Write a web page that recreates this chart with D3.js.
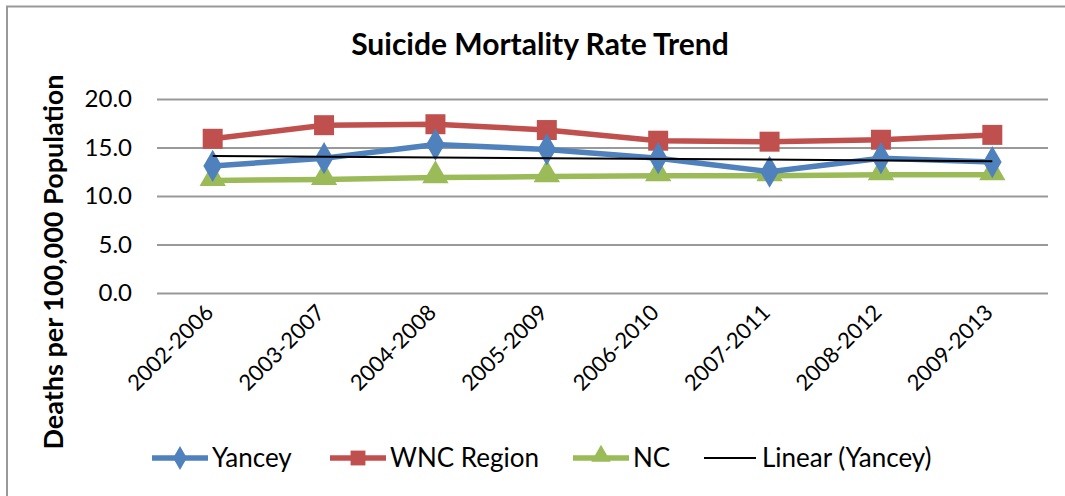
<!DOCTYPE html>
<html>
<head>
<meta charset="utf-8">
<script src="https://cdn.jsdelivr.net/npm/d3@7"></script>
<style>
  body { margin: 0; background: #fff; }
  svg { display: block; font-family: Lato, "Open Sans", sans-serif; }
  .grid line { stroke: #999; stroke-width: 2; }
  .grid path { display: none; }
</style>
</head>
<body>
<script>
(function() {
    var w = 1065,
        h = 496;

    // data
    var periods = ['2002-2006', '2003-2007', '2004-2008', '2005-2009',
                   '2006-2010', '2007-2011', '2008-2012', '2009-2013'];
    var yancey = [13.1, 13.9, 15.3, 14.8, 13.9, 12.5, 13.9, 13.5];
    var wnc = [15.9, 17.3, 17.4, 16.8, 15.7, 15.6, 15.8, 16.3];
    var nc = [11.6, 11.7, 11.9, 12.0, 12.1, 12.1, 12.2, 12.2];
    var yTicks = [0, 5, 10, 15, 20];

    var plot = { left: 157, right: 1048, top: 99, bottom: 293 };

    var svg = d3.select('body')
        .append('svg')
        .attr('width', w)
        .attr('height', h);

    // chart area border (only top and left show in the crop)
    svg.append('path')
        .attr('d', 'M7,' + h + 'V6.5H' + w)
        .attr('fill', 'none')
        .attr('stroke', '#999')
        .attr('stroke-width', 2);

    var x = d3.scaleBand()
        .domain(periods)
        .range([plot.left, plot.right]);
    var y = d3.scaleLinear()
        .domain([0, 20])
        .range([plot.bottom, plot.top]);
    var cx = function(i) { return x(periods[i]) + x.bandwidth() / 2; };

    // gridlines
    svg.append('g')
        .attr('class', 'grid')
        .attr('transform', 'translate(' + plot.left + ',0)')
        .call(d3.axisLeft(y).tickValues(yTicks).tickSize(-(plot.right - plot.left)).tickFormat(''));

    // y tick labels
    svg.append('g')
        .selectAll('text')
        .data(yTicks)
        .enter()
        .append('text')
        .attr('x', 132)
        .attr('y', function(d) { return y(d); })
        .attr('dy', '0.35em')
        .attr('text-anchor', 'end')
        .attr('font-size', 24)
        .text(function(d) { return d3.format('.1f')(d); });

    // x tick labels, rotated
    svg.append('g')
        .selectAll('text')
        .data(periods)
        .enter()
        .append('text')
        .attr('transform', function(d, i) {
            return 'translate(' + (cx(i) + 2) + ',314) rotate(-45)';
        })
        .attr('text-anchor', 'end')
        .attr('font-size', 22)
        .text(function(d) { return d; });

    // title and axis title
    svg.append('text')
        .attr('x', 540)
        .attr('y', 55)
        .attr('text-anchor', 'middle')
        .attr('font-size', 30)
        .attr('font-weight', 'bold')
        .text('Suicide Mortality Rate Trend');
    svg.append('text')
        .attr('transform', 'translate(63,262) rotate(-90)')
        .attr('text-anchor', 'middle')
        .attr('font-size', 27)
        .attr('font-weight', 'bold')
        .text('Deaths per 100,000 Population');

    var series = [
        { name: 'Yancey', values: yancey, color: '#4F81BD', symbol: d3.symbolDiamond, size: 300, dy: 0 },
        { name: 'WNC Region', values: wnc, color: '#C0504D', symbol: d3.symbolSquare, size: 400, dy: 0 },
        { name: 'NC', values: nc, color: '#9BBB59', symbol: d3.symbolTriangle, size: 300, dy: -2 }
    ];

    var line = d3.line()
        .x(function(d, i) { return cx(i); })
        .y(function(d) { return y(d); });

    // draw order: NC, WNC, Yancey (yancey on top)
    [series[2], series[1], series[0]].forEach(function(s) {
        var g = svg.append('g');
        g.append('path')
            .datum(s.values)
            .attr('d', line)
            .attr('fill', 'none')
            .attr('stroke', s.color)
            .attr('stroke-width', 5.5)
            .attr('stroke-linejoin', 'round');
        g.selectAll('path.pt')
            .data(s.values)
            .enter()
            .append('path')
            .attr('class', 'pt')
            .attr('transform', function(d, i) {
                return 'translate(' + cx(i) + ',' + (y(d) + s.dy) + ')';
            })
            .attr('d', d3.symbol().type(s.symbol).size(s.size))
            .attr('fill', s.color);
    });

    // linear trend of Yancey (least squares)
    var n = yancey.length,
        mx = d3.mean(d3.range(n)),
        my = d3.mean(yancey);
    var slope = d3.sum(yancey, function(v, i) { return (i - mx) * (v - my); }) /
                d3.sum(d3.range(n), function(i) { return (i - mx) * (i - mx); });
    var trend = [0, n - 1].map(function(i) { return { i: i, v: my + slope * (i - mx) }; });
    svg.append('path')
        .datum(trend)
        .attr('d', d3.line()
            .x(function(d) { return cx(d.i); })
            .y(function(d) { return y(d.v); }))
        .attr('stroke', '#000')
        .attr('stroke-width', 2);

    // legend
    var legendY = 458;
    var items = [
        { s: series[0], x: 152 },
        { s: series[1], x: 330 },
        { s: series[2], x: 573 },
        { s: null, name: 'Linear (Yancey)', x: 704 }
    ];
    items.forEach(function(it) {
        var g = svg.append('g').attr('transform', 'translate(' + it.x + ',' + legendY + ')');
        var col = it.s ? it.s.color : '#000';
        g.append('line')
            .attr('x1', 0).attr('x2', it.s ? 56 : 52)
            .attr('stroke', col)
            .attr('stroke-width', it.s ? 5.5 : 2);
        if (it.s) {
            g.append('path')
                .attr('transform', 'translate(28,' + it.s.dy + ')')
                .attr('d', d3.symbol().type(it.s.symbol).size(it.s.size * 0.55))
                .attr('fill', col);
        }
        g.append('text')
            .attr('x', it.s ? 60 : 58)
            .attr('dy', '0.35em')
            .attr('font-size', 26)
            .text(it.s ? it.s.name : it.name);
    });
})();
</script>
</body>
</html>
